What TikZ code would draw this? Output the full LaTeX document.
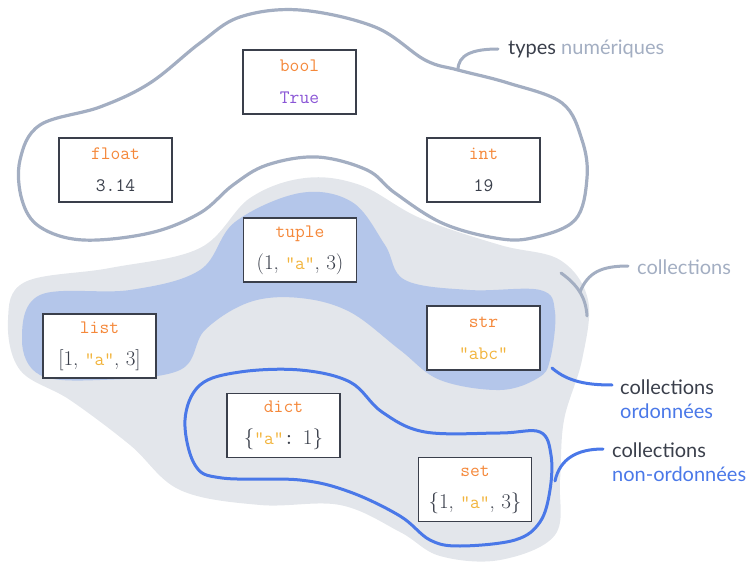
\documentclass[tikz,border=0pt]{standalone}
\usepackage{fontspec}
\setmainfont{Latin Modern Roman}
\setmonofont{Latin Modern Mono}
\newfontfamily\labelfont{Lato}
\definecolor{tyname}{HTML}{F5883A}
\definecolor{kwval}{HTML}{8A55D6}
\definecolor{strval}{HTML}{F2B43C}
\definecolor{ink}{HTML}{3A3F4B}
\definecolor{numline}{HTML}{A3AEC2}
\definecolor{collfill}{HTML}{E3E6EB}
\definecolor{ordfill}{HTML}{B4C6EA}
\definecolor{unordline}{HTML}{4A78E8}
\tikzset{
  typebox/.style={draw=ink, fill=white, line width=1.5pt, minimum width=113pt,
    minimum height=64pt, inner sep=0pt, align=center, text=ink,
    font=\fontsize{19}{32}\selectfont\ttfamily},
  lbl/.style={anchor=west, inner sep=0pt, font=\labelfont\fontsize{20}{25}\selectfont},
  pointer/.style={line width=3pt, line cap=round},
}
\newcommand{\sv}[1]{\textcolor{strval}{\ttfamily\fontsize{19}{32}\selectfont"#1"}}
\newcommand{\tn}[1]{\textcolor{tyname}{#1}}
\newcommand{\rmval}{\rmfamily\fontsize{21}{32}\selectfont}
\begin{document}
\begin{tikzpicture}[x=1pt, y=-1pt]
\useasboundingbox (0,0) rectangle (755,564);

% collections (grey area)
\fill[collfill] plot[smooth cycle, tension=0.6] coordinates {
  (8,320) (25,282) (110,268) (200,248) (250,198) (305,178) (360,185)
  (420,218) (500,245) (560,260) (588,300) (582,360) (564,420) (560,480)
  (555,535) (500,560) (440,556) (400,532) (340,505) (260,505) (180,490)
  (130,445) (70,400) (20,370)};

% ordered collections (blue area)
\fill[ordfill] plot[smooth cycle, tension=0.6] coordinates {
  (22,340) (40,295) (130,290) (200,270) (235,222) (300,193) (352,202)
  (385,245) (405,280) (470,290) (540,290) (555,312) (550,360) (538,378)
  (500,390) (440,380) (400,350) (350,312) (300,298) (250,302) (205,330)
  (180,370) (100,380) (40,375)};

% numeric types
\draw[numline, line width=3.2pt] plot[smooth cycle, tension=0.6] coordinates {
  (20,160) (40,125) (100,107) (150,83) (200,43) (240,17) (300,10) (375,27)
  (425,60) (458,70) (508,83) (562,103) (582,140) (587,178) (575,220)
  (532,238) (495,238) (442,223) (395,193) (367,170) (317,157) (267,165)
  (233,185) (200,213) (150,233) (83,240) (40,227) (22,200)};

% unordered collections
\draw[unordline, line width=3pt] plot[smooth cycle, tension=0.6] coordinates {
  (185,420) (200,385) (240,372) (300,370) (350,382) (382,412) (425,432)
  (500,433) (540,432) (551,455) (550,490) (540,522) (515,540) (460,546)
  (430,540) (400,516) (350,492) (300,480) (222,478) (195,465)};

% label pointers
\coordinate (numtip) at (458,70);
\coordinate (colarcA) at (561,273);
\coordinate (colarcB) at (587,316);
\coordinate (coltip) at (580,292);
\coordinate (ordtip) at (552,368);
\coordinate (unordtip) at (555,481);

\node[lbl] (numlbl) at (508,49) {\textcolor{ink}{types} \textcolor{numline}{numériques}};
\node[lbl] (collbl) at (637,267) {\textcolor{numline}{collections}};
\node[lbl, align=left] (ordlbl) at (620,399)
  {\textcolor{ink}{collections}\\[-1pt]\textcolor{unordline}{ordonnées}};
\node[lbl, align=left] (unordlbl) at (612,462)
  {\textcolor{ink}{collections}\\[-1pt]\textcolor{unordline}{non-ordonnées}};

\draw[numline, pointer] (numtip) .. controls (458,55) and (472,49) .. (498,49);
\draw[numline, pointer] (colarcA) .. controls (578,285) and (586,298) .. (colarcB);
\draw[numline, pointer] (coltip) .. controls (588,272) and (602,266) .. (628,266);
\draw[unordline, pointer] (ordtip) .. controls (568,382) and (588,385) .. (612,385);
\draw[unordline, pointer] (unordtip) .. controls (560,458) and (578,449) .. (603,449);

% values
\node[typebox] (bool)  at (299.5,82)  {\tn{bool}\\\textcolor{kwval}{True}};
\node[typebox] (float) at (115.5,170) {\tn{float}\\3.14};
\node[typebox] (int)   at (483.5,170) {\tn{int}\\19};
\node[typebox] (tuple) at (300,250) {\tn{tuple}\\\rmval(1, \sv{a}, 3)};
\node[typebox] (list)  at (99.5,346) {\tn{list}\\\rmval[1, \sv{a}, 3]};
\node[typebox] (str)   at (483.5,338) {\tn{str}\\\sv{abc}};
\node[typebox] (dict)  at (283.5,425.5) {\tn{dict}\\\rmval\{\sv{a}\texttt{:} 1\}};
\node[typebox] (set)   at (475,489.5) {\tn{set}\\\rmval\{1, \sv{a}, 3\}};
\end{tikzpicture}
\end{document}
